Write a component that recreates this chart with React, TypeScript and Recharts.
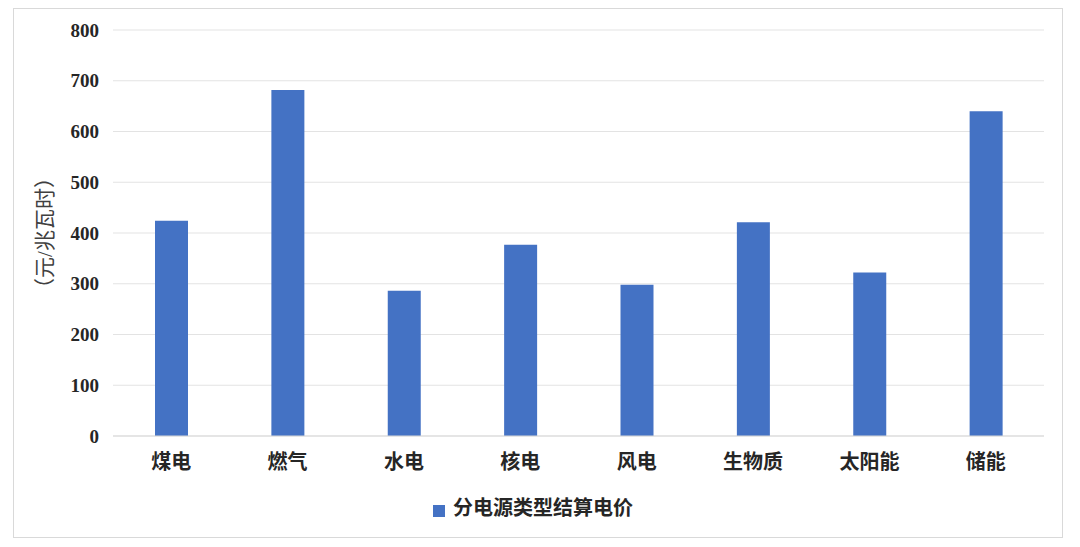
import { Bar, BarChart, CartesianGrid, Legend, XAxis, YAxis } from 'recharts'

const categories = ['煤电', '燃气', '水电', '核电', '风电', '生物质', '太阳能', '储能']
const prices = [424, 682, 286, 377, 298, 421, 322, 640]
const yTicks = [0, 100, 200, 300, 400, 500, 600, 700, 800]

const seriesName = '分电源类型结算电价'
const BAR_COLOR = '#4472C4'
const FONT = "'Liberation Serif', 'Noto Sans CJK SC', serif"

const chartData = categories.map((name, i) => ({ name, value: prices[i] }))

export default function App() {
  return (
    <div
      style={{
        marginLeft: 5,
        width: 1048,
        height: 528,
        border: '1px solid #d9d9d9',
        background: '#fff',
      }}
    >
      <BarChart
        width={1048}
        height={528}
        data={chartData}
        margin={{ top: 21, right: 18, bottom: 11, left: 0 }}
      >
        <CartesianGrid vertical={false} stroke="#e3e3e3" />
        <XAxis
          dataKey="name"
          axisLine={{ stroke: '#d9d9d9' }}
          tickLine={false}
          tickSize={0}
          tickMargin={19}
          height={40}
          interval={0}
          tick={{ fill: '#262626', fontSize: 20, fontWeight: 600, fontFamily: FONT }}
        />
        <YAxis
          width={99}
          domain={[0, 800]}
          ticks={yTicks}
          axisLine={false}
          tickLine={false}
          tickSize={0}
          tickMargin={14}
          tick={{ fill: '#262626', fontSize: 19, fontWeight: 700, fontFamily: FONT }}
          label={{
            value: '（元/兆瓦时）',
            angle: -90,
            position: 'insideLeft',
            offset: 31,
            style: { textAnchor: 'middle', fill: '#404040', fontSize: 21, fontFamily: FONT },
          }}
        />
        <Legend
          verticalAlign="bottom"
          height={34}
          iconType="square"
          iconSize={12}
          wrapperStyle={{ left: 0, width: 1048, paddingTop: 16 }}
          formatter={(v) => (
            <span
              style={{
                color: '#262626',
                fontSize: 20,
                fontWeight: 600,
                fontFamily: FONT,
                marginLeft: 4,
              }}
            >
              {v}
            </span>
          )}
        />
        <Bar
          dataKey="value"
          name={seriesName}
          fill={BAR_COLOR}
          barSize={33}
          isAnimationActive={false}
        />
      </BarChart>
    </div>
  )
}
